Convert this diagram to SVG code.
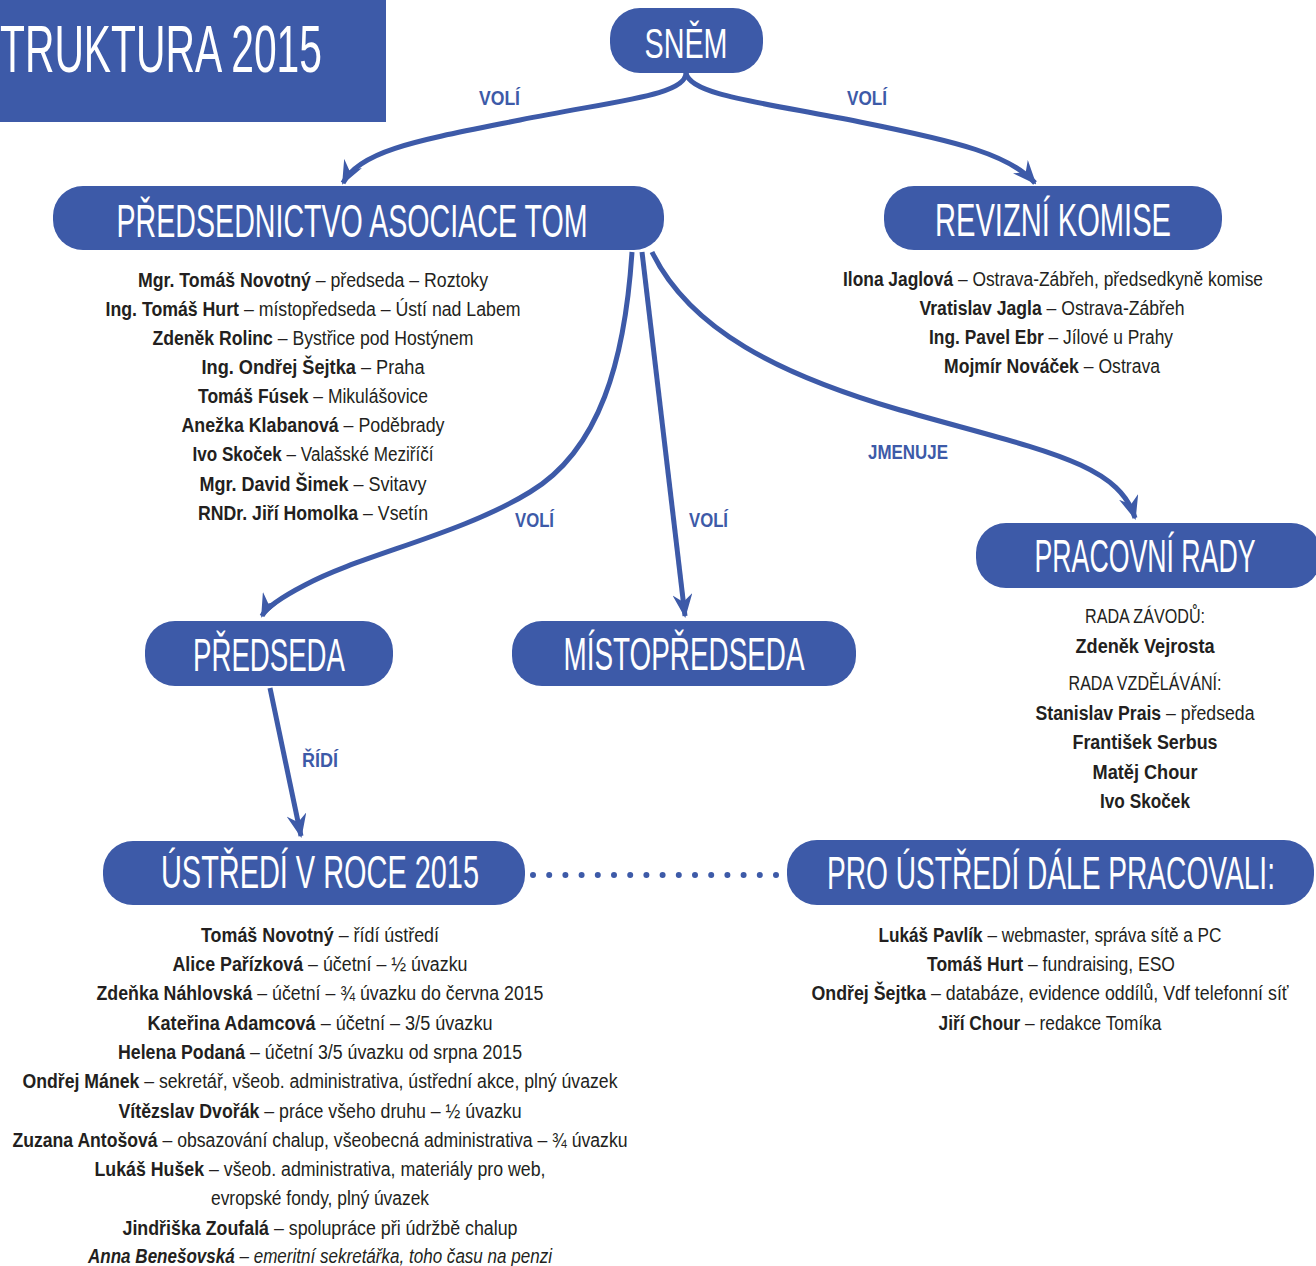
<svg xmlns="http://www.w3.org/2000/svg" width="1316" height="1266" viewBox="0 0 1316 1266">
<defs>
<style>
.box{fill:#3d5aa8}
.n{font-family:"Liberation Sans",Arial,sans-serif;fill:#fff;text-anchor:middle;text-transform:uppercase}
.t{font-family:"Liberation Sans",Arial,sans-serif;font-size:20px;fill:#231f20;text-anchor:middle}
.b{font-weight:bold}
.lbl{font-family:"Liberation Sans",Arial,sans-serif;font-size:20px;font-weight:bold;fill:#3d5aa8}
.c{fill:none;stroke:#3d5aa8;stroke-width:5}
</style>
<marker id="ah" viewBox="0 0 24 20" refX="22" refY="10" markerWidth="24" markerHeight="20" markerUnits="userSpaceOnUse" orient="auto">
<path d="M0,0 L24,10 L0,20 L8,10 Z" fill="#3d5aa8"/>
</marker>
</defs>
<rect width="1316" height="1266" fill="#fff"/>

<g id="title">
<rect class="box" x="0" y="0" width="386" height="122"/>
<text class="n" x="0" y="72" font-size="66" text-anchor="start" style="text-anchor:start" textLength="322" lengthAdjust="spacingAndGlyphs">truktura 2015</text>
</g>

<g id="connectors">
<path class="c" d="M686,73 C686,95 620,100 520,120 C420,140 360,150 343,183" marker-end="url(#ah)"/>
<path class="c" d="M686,73 C690,95 760,102 860,122 C960,142 1010,155 1035,183" marker-end="url(#ah)"/>
<path class="c" d="M632,252 C625,360 600,450 530,492 C460,535 360,555 305,585 C280,598 266,608 262,616" marker-end="url(#ah)"/>
<path class="c" d="M642,252 L685,616" marker-end="url(#ah)"/>
<path class="c" d="M652,252 C690,330 780,375 900,410 C1040,450 1118,462 1135,518" marker-end="url(#ah)"/>
<path class="c" d="M270,688 L301,836" marker-end="url(#ah)"/>
<line x1="533" y1="875" x2="777" y2="875" stroke="#3d5aa8" stroke-width="6" stroke-linecap="round" stroke-dasharray="0 16.2"/>
<text class="lbl" x="479" y="105" textLength="41" lengthAdjust="spacingAndGlyphs">VOLÍ</text>
<text class="lbl" x="847" y="105" textLength="40" lengthAdjust="spacingAndGlyphs">VOLÍ</text>
<text class="lbl" x="515" y="527" textLength="39" lengthAdjust="spacingAndGlyphs">VOLÍ</text>
<text class="lbl" x="689" y="527" textLength="39" lengthAdjust="spacingAndGlyphs">VOLÍ</text>
<text class="lbl" x="868" y="459" textLength="80" lengthAdjust="spacingAndGlyphs">JMENUJE</text>
<text class="lbl" x="302" y="767" textLength="36" lengthAdjust="spacingAndGlyphs">ŘÍDÍ</text>
</g>

<g id="snem">
<rect class="box" x="610" y="8" width="153" height="65" rx="30"/>
<text class="n" x="686" y="58" font-size="43" textLength="83" lengthAdjust="spacingAndGlyphs">sněm</text>
</g>

<g id="predsednictvo">
<rect class="box" x="53" y="186" width="611" height="64" rx="30"/>
<text class="n" x="352" y="237" font-size="47" textLength="471" lengthAdjust="spacingAndGlyphs">předsednictvo asociace TOM</text>
<text class="t" x="313" y="287" textLength="350" lengthAdjust="spacingAndGlyphs"><tspan class="b">Mgr. Tomáš Novotný</tspan> – předseda – Roztoky</text>
<text class="t" x="313" y="316" textLength="415" lengthAdjust="spacingAndGlyphs"><tspan class="b">Ing. Tomáš Hurt</tspan> – místopředseda – Ústí nad Labem</text>
<text class="t" x="313" y="345" textLength="321" lengthAdjust="spacingAndGlyphs"><tspan class="b">Zdeněk Rolinc</tspan> – Bystřice pod Hostýnem</text>
<text class="t" x="313" y="374" textLength="223" lengthAdjust="spacingAndGlyphs"><tspan class="b">Ing. Ondřej Šejtka</tspan> – Praha</text>
<text class="t" x="313" y="403" textLength="230" lengthAdjust="spacingAndGlyphs"><tspan class="b">Tomáš Fúsek</tspan> – Mikulášovice</text>
<text class="t" x="313" y="432" textLength="263" lengthAdjust="spacingAndGlyphs"><tspan class="b">Anežka Klabanová</tspan> – Poděbrady</text>
<text class="t" x="313" y="461" textLength="241" lengthAdjust="spacingAndGlyphs"><tspan class="b">Ivo Skoček</tspan> – Valašské Meziříčí</text>
<text class="t" x="313" y="491" textLength="227" lengthAdjust="spacingAndGlyphs"><tspan class="b">Mgr. David Šimek</tspan> – Svitavy</text>
<text class="t" x="313" y="520" textLength="230" lengthAdjust="spacingAndGlyphs"><tspan class="b">RNDr. Jiří Homolka</tspan> – Vsetín</text>
</g>

<g id="revizni">
<rect class="box" x="884" y="186" width="338" height="64" rx="30"/>
<text class="n" x="1053" y="236" font-size="47" textLength="236" lengthAdjust="spacingAndGlyphs">revizní komise</text>
<text class="t" x="1053" y="286" textLength="420" lengthAdjust="spacingAndGlyphs"><tspan class="b">Ilona Jaglová</tspan> – Ostrava-Zábřeh, předsedkyně komise</text>
<text class="t" x="1052" y="315" textLength="265" lengthAdjust="spacingAndGlyphs"><tspan class="b">Vratislav Jagla</tspan> – Ostrava-Zábřeh</text>
<text class="t" x="1051" y="344" textLength="244" lengthAdjust="spacingAndGlyphs"><tspan class="b">Ing. Pavel Ebr</tspan> – Jílové u Prahy</text>
<text class="t" x="1052" y="373" textLength="216" lengthAdjust="spacingAndGlyphs"><tspan class="b">Mojmír Nováček</tspan> – Ostrava</text>
</g>

<g id="pracovni-rady">
<rect class="box" x="976" y="523" width="345" height="65" rx="30"/>
<text class="n" x="1145" y="572" font-size="47" textLength="221" lengthAdjust="spacingAndGlyphs">pracovní rady</text>
<text class="t" x="1145" y="623" textLength="120" lengthAdjust="spacingAndGlyphs">RADA ZÁVODŮ:</text>
<text class="t b" x="1145" y="653" textLength="139" lengthAdjust="spacingAndGlyphs">Zdeněk Vejrosta</text>
<text class="t" x="1145" y="690" textLength="153" lengthAdjust="spacingAndGlyphs">RADA VZDĚLÁVÁNÍ:</text>
<text class="t" x="1145" y="720" textLength="219" lengthAdjust="spacingAndGlyphs"><tspan class="b">Stanislav Prais</tspan> – předseda</text>
<text class="t b" x="1145" y="749" textLength="145" lengthAdjust="spacingAndGlyphs">František Serbus</text>
<text class="t b" x="1145" y="779" textLength="105" lengthAdjust="spacingAndGlyphs">Matěj Chour</text>
<text class="t b" x="1145" y="808" textLength="90" lengthAdjust="spacingAndGlyphs">Ivo Skoček</text>
</g>

<g id="predseda">
<rect class="box" x="145" y="621" width="248" height="65" rx="30"/>
<text class="n" x="269" y="671" font-size="47" textLength="152" lengthAdjust="spacingAndGlyphs">předseda</text>
</g>

<g id="mistopredseda">
<rect class="box" x="512" y="621" width="344" height="65" rx="30"/>
<text class="n" x="684" y="670" font-size="47" textLength="241" lengthAdjust="spacingAndGlyphs">místopředseda</text>
</g>

<g id="ustredi">
<rect class="box" x="103" y="841" width="422" height="64" rx="30"/>
<text class="n" x="320" y="888" font-size="47" textLength="318" lengthAdjust="spacingAndGlyphs">ústředí v roce 2015</text>
<text class="t" x="320" y="942" textLength="238" lengthAdjust="spacingAndGlyphs"><tspan class="b">Tomáš Novotný</tspan> – řídí ústředí</text>
<text class="t" x="320" y="971" textLength="295" lengthAdjust="spacingAndGlyphs"><tspan class="b">Alice Pařízková</tspan> – účetní – ½ úvazku</text>
<text class="t" x="320" y="1000" textLength="447" lengthAdjust="spacingAndGlyphs"><tspan class="b">Zdeňka Náhlovská</tspan> – účetní – ¾ úvazku do června 2015</text>
<text class="t" x="320" y="1030" textLength="345" lengthAdjust="spacingAndGlyphs"><tspan class="b">Kateřina Adamcová</tspan> – účetní – 3/5 úvazku</text>
<text class="t" x="320" y="1059" textLength="404" lengthAdjust="spacingAndGlyphs"><tspan class="b">Helena Podaná</tspan> – účetní 3/5 úvazku od srpna 2015</text>
<text class="t" x="320" y="1088" textLength="595" lengthAdjust="spacingAndGlyphs"><tspan class="b">Ondřej Mánek</tspan> – sekretář, všeob. administrativa, ústřední akce, plný úvazek</text>
<text class="t" x="320" y="1118" textLength="403" lengthAdjust="spacingAndGlyphs"><tspan class="b">Vítězslav Dvořák</tspan> – práce všeho druhu – ½ úvazku</text>
<text class="t" x="320" y="1147" textLength="615" lengthAdjust="spacingAndGlyphs"><tspan class="b">Zuzana Antošová</tspan> – obsazování chalup, všeobecná administrativa – ¾ úvazku</text>
<text class="t" x="320" y="1176" textLength="451" lengthAdjust="spacingAndGlyphs"><tspan class="b">Lukáš Hušek</tspan> – všeob. administrativa, materiály pro web,</text>
<text class="t" x="320" y="1205" textLength="218" lengthAdjust="spacingAndGlyphs">evropské fondy, plný úvazek</text>
<text class="t" x="320" y="1235" textLength="395" lengthAdjust="spacingAndGlyphs"><tspan class="b">Jindřiška Zoufalá</tspan> – spolupráce při údržbě chalup</text>
<text class="t" x="320" y="1263" font-style="italic" textLength="464" lengthAdjust="spacingAndGlyphs"><tspan class="b">Anna Benešovská</tspan> – emeritní sekretářka, toho času na penzi</text>
</g>

<g id="pro-ustredi">
<rect class="box" x="787" y="840" width="527" height="65" rx="30"/>
<text class="n" x="1051" y="889" font-size="47" textLength="448" lengthAdjust="spacingAndGlyphs">pro ústředí dále pracovali:</text>
<text class="t" x="1050" y="942" textLength="343" lengthAdjust="spacingAndGlyphs"><tspan class="b">Lukáš Pavlík</tspan> – webmaster, správa sítě a PC</text>
<text class="t" x="1051" y="971" textLength="248" lengthAdjust="spacingAndGlyphs"><tspan class="b">Tomáš Hurt</tspan> – fundraising, ESO</text>
<text class="t" x="1050" y="1000" textLength="477" lengthAdjust="spacingAndGlyphs"><tspan class="b">Ondřej Šejtka</tspan> – databáze, evidence oddílů, Vdf telefonní síť</text>
<text class="t" x="1050" y="1030" textLength="223" lengthAdjust="spacingAndGlyphs"><tspan class="b">Jiří Chour</tspan> – redakce Tomíka</text>
</g>
</svg>
